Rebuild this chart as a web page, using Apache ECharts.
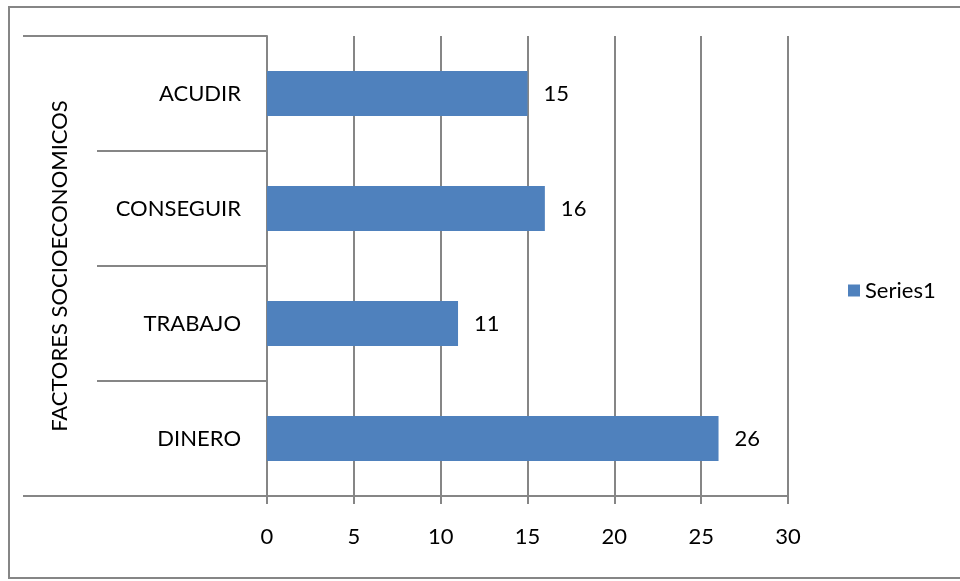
<!DOCTYPE html>
<html>
<head>
<meta charset="utf-8">
<title>Factores socioeconomicos</title>
<script src="https://cdn.jsdelivr.net/npm/echarts@6/dist/echarts.min.js"></script>
<style>
  html, body { margin: 0; padding: 0; background: #fff; }
  #chart { width: 960px; height: 581px; }
</style>
</head>
<body>
<div id="chart"></div>
<script>
// datos del grafico
var categorias = ['DINERO', 'TRABAJO', 'CONSEGUIR', 'ACUDIR'];
var valores = [26, 11, 16, 15];
var serieNombre = 'Series1';
var tituloEje = 'FACTORES SOCIOECONOMICOS';

var gris = '#868686';
var fuente = 'Lato';
var tam = 22;

var chart = echarts.init(document.getElementById('chart'));
chart.setOption({
    animation: false,
    textStyle: { fontFamily: fuente },
    grid: { left: 267, right: 172, top: 36, bottom: 85 },
    legend: {
        data: [serieNombre],
        left: 843, top: 'middle',
        itemWidth: 12, itemHeight: 12, itemGap: 4,
        icon: 'rect',
        textStyle: { fontSize: tam, color: '#000', fontFamily: fuente }
    },
    xAxis: {
        type: 'value',
        min: 0, max: 30, interval: 5,
        axisLine: { show: true, lineStyle: { color: gris, width: 2 } },
        axisTick: { show: true, length: 8, lineStyle: { color: gris, width: 2 } },
        axisLabel: { fontSize: tam, color: '#000', margin: 30 },
        splitLine: { show: true, lineStyle: { color: gris, width: 2 } }
    },
    yAxis: {
        type: 'category',
        data: categorias,
        name: tituloEje,
        nameLocation: 'middle',
        nameRotate: 90,
        nameGap: 196,
        nameTextStyle: { fontSize: tam, color: '#000' },
        axisLine: { show: true, lineStyle: { color: gris, width: 2 } },
        axisTick: { show: true, length: 170, lineStyle: { color: gris, width: 2 } },
        axisLabel: { fontSize: tam, color: '#000', margin: 26 }
    },
    graphic: [
        { type: 'rect', shape: { x: 9, y: 7, width: 960, height: 571 }, style: { fill: null, stroke: gris, lineWidth: 2 }, silent: true },
        { type: 'line', shape: { x1: 23, y1: 36, x2: 97, y2: 36 }, style: { stroke: gris, lineWidth: 2 }, silent: true },
        { type: 'line', shape: { x1: 23, y1: 496, x2: 97, y2: 496 }, style: { stroke: gris, lineWidth: 2 }, silent: true }
    ],
    series: [{
        name: serieNombre,
        type: 'bar',
        data: valores,
        barWidth: 45,
        itemStyle: { color: '#4F81BD' },
        label: { show: true, position: 'right', distance: 16, fontSize: tam, color: '#000' }
    }]
});
</script>
</body>
</html>
